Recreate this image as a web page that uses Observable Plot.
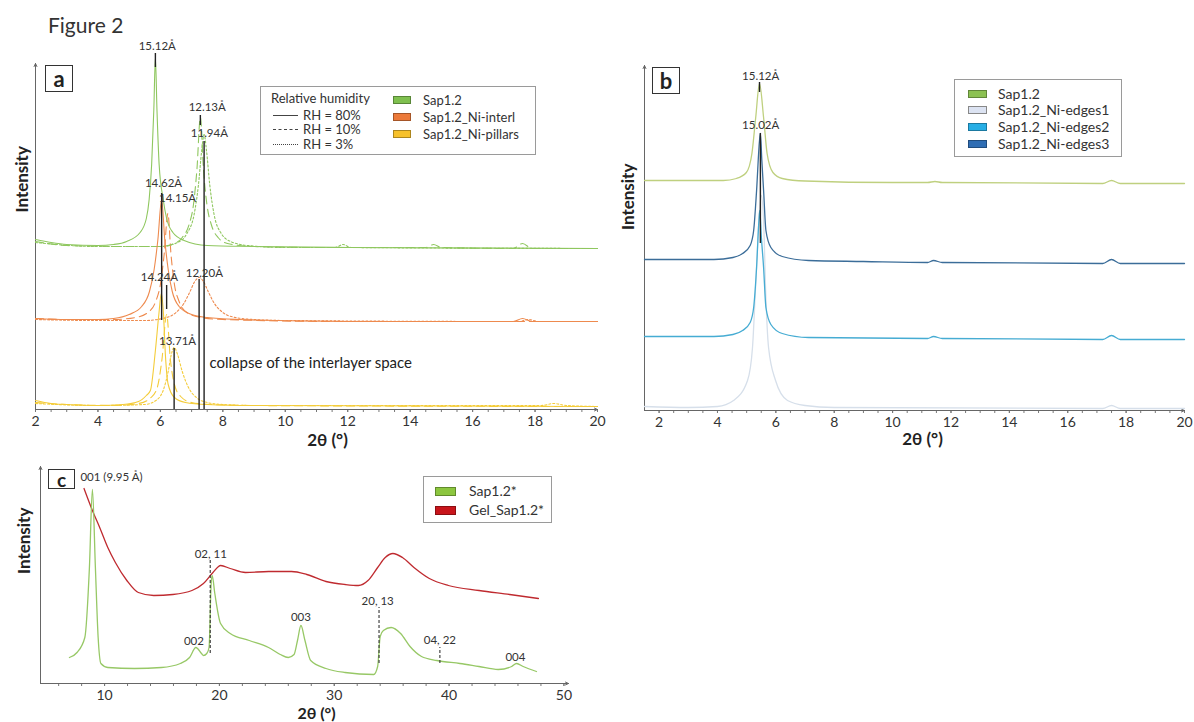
<!DOCTYPE html>
<html><head><meta charset="utf-8">
<script src="https://cdn.jsdelivr.net/npm/d3@7"></script>
<script src="https://cdn.jsdelivr.net/npm/@observablehq/plot@0.6"></script>
<style>
body{margin:0;background:#fff;font-family:Lato,"Open Sans",sans-serif;color:#333}
#fig{position:relative;width:1194px;height:722px;overflow:hidden;background:#fff}
.pos{position:absolute}
.tag{position:absolute;border:1px solid #333;font-weight:bold;display:flex;align-items:center;justify-content:center;background:#fff;line-height:1;box-sizing:border-box;color:#222}
.legend{position:absolute;border:1px solid #9a9a9a;background:#fff;color:#333;box-sizing:border-box}
.row{position:absolute;white-space:nowrap;height:16px;line-height:16px}
.sw{position:absolute;box-sizing:border-box;border:1px solid rgba(0,0,0,0.3)}
.ln{position:absolute;width:25px;height:0;border-top:1.3px solid #444}
</style>
</head><body>
<div id="fig">
  <div class="pos" style="left:48px;top:12px;font-size:21px;color:#333">Figure 2</div>
</div>
<script>
// ---------- Panel a : 2θ (°) vs intensity (a.u.) ----------
const aSamples = ["Sap1.2", "Sap1.2_Ni-interl", "Sap1.2_Ni-pillars"];
const aColors = ["#8fc75f", "#ee8a4e", "#f4cc3a"];
const aSwatches = ["#7fc04f", "#ec7a3a", "#f7c12b"];
const aRH = ["RH = 80%", "RH = 10%", "RH = 3%"];

const aSap_rh80 = [[2,170],[2.5,167],[3,165],[4,164],[4.5,165],[4.92,168],[5.35,177],[5.55,191],[5.64,210],[5.72,245],[5.79,300],[5.84,352],[5.89,300],[5.96,245],[6.09,210],[6.2,191],[6.4,177],[6.76,169],[7.5,164],[9,163],[12,162],[20,161]];
const aSap_rh10 = [[2,168],[3,164],[5,163],[6,163],[6.45,166],[6.7,172],[6.92,185],[7.06,205],[7.17,240],[7.28,292],[7.38,240],[7.49,205],[7.63,185],[7.85,172],[8.15,166],[9,163],[11,162],[14.5,162],[14.75,165],[15,162],[17.3,161],[17.6,166],[17.9,161],[20,161]];
const aSap_rh3 = [[2,167],[4,163],[6,163],[6.55,167],[6.85,176],[7.08,195],[7.22,225],[7.32,258],[7.4,275],[7.48,258],[7.58,225],[7.72,195],[7.95,176],[8.25,168],[8.8,164],[10,162],[11.6,162],[11.85,165],[12.1,162],[20,161]];
const aInterl_rh80 = [[2,91],[3,90],[4,90],[4.5,91],[5,95],[5.4,103],[5.65,118],[5.8,140],[5.92,170],[6.04,210],[6.14,170],[6.25,140],[6.38,118],[6.6,103],[7,95],[7.5,92],[8.5,90],[12,88],[17.3,88],[17.6,91],[17.9,88],[20,88]];
const aInterl_rh10 = [[2,91],[3,90],[4.5,90],[5.2,92],[5.6,97],[5.85,108],[6,125],[6.12,155],[6.24,196],[6.34,155],[6.45,125],[6.6,108],[6.85,97],[7.3,92],[8,90],[12,88],[20,88]];
const aInterl_rh3 = [[2,90],[4,89],[5.5,89],[6.2,92],[6.5,97],[6.75,106],[6.95,118],[7.1,128],[7.24,132],[7.38,128],[7.53,118],[7.73,106],[8,97],[8.4,92],[9,90],[10,89],[17.5,88],[17.8,90],[18.1,88],[20,88]];
const aPill_rh80 = [[2,9],[2.5,6],[3,5],[4,4],[4.8,5],[5.3,8],[5.55,14],[5.68,19],[5.84,59],[5.95,95],[6.03,116],[6.1,95],[6.16,55],[6.25,25],[6.45,12],[6.8,7],[7.5,5],[9,4],[20,3]];
const aPill_rh10 = [[2,7],[3,5],[4.5,4],[5.3,6],[5.7,12],[5.9,22],[6.05,50],[6.2,95],[6.32,50],[6.45,25],[6.65,13],[7,7],[7.6,5],[9,4],[20,3]];
const aPill_rh3 = [[2,6],[4,4],[5.5,5],[5.9,10],[6.1,20],[6.25,38],[6.35,55],[6.44,62],[6.55,55],[6.7,38],[6.9,22],[7.15,12],[7.5,7],[8,5],[9,4],[18.2,4],[18.6,6],[19,4],[20,3]];

const aPeakLabels = [
  {t:"15.12Å", x:5.9, y:363}, {t:"12.13Å", x:7.5, y:302}, {t:"11.94Å", x:7.57, y:276},
  {t:"14.62Å", x:6.1, y:226}, {t:"14.15Å", x:6.55, y:211}, {t:"14.24Å", x:5.97, y:132},
  {t:"12.20Å", x:7.41, y:136}, {t:"13.71Å", x:6.55, y:68}
];
const aRules = [
  {x:5.84, y1:342, y2:356}, {x:7.28, y1:284, y2:294}, {x:7.40, y1:0, y2:268},
  {x:7.24, y1:0, y2:130}, {x:6.44, y1:0, y2:61}, {x:6.04, y1:89, y2:216}, {x:6.2, y1:100, y2:124}
];
const aNote = [{t:"collapse of the interlayer space", x:7.57, y:46}];
const aXDomain = [2, 20], aYDomain = [0, 346];
const aMajor = [2,4,6,8,10,12,14,16,18,20];

// ---------- Panel b ----------
const bSamples = ["Sap1.2", "Sap1.2_Ni-edges1", "Sap1.2_Ni-edges2", "Sap1.2_Ni-edges3"];
const bColors = ["#bfd07f", "#d6dfea", "#46acd3", "#3b6d99"];
const bSwatches = ["#8cc152", "#dce3f2", "#27aee5", "#2f6db3"];
const bSap = [[1.5,230],[3,230],[4.2,230],[4.65,232],[4.99,238],[5.18,257],[5.31,293],[5.44,327],[5.58,293],[5.7,257],[5.9,238],[6.22,232],[7,229.5],[10,228],[11.2,228],[11.45,229],[11.7,228],[17.2,227],[17.5,230],[17.8,227],[20,227]];
const bEdges1 = [[1.5,4],[3,3],[4,4],[4.55,10],[5.03,30],[5.2,63],[5.3,120],[5.42,190],[5.5,215],[5.58,190],[5.65,120],[5.75,63],[5.99,30],[6.4,10],[7,5],[8,3],[17.2,2],[17.5,5],[17.8,2],[20,2]];
const bEdges2 = [[1.5,74],[3.88,74],[4.53,76],[4.86,80],[5.12,88],[5.24,103],[5.34,143],[5.42,190],[5.45,200],[5.5,175],[5.58,143],[5.66,103],[5.83,86],[6.22,77],[7.12,73],[11.2,72],[11.4,74],[11.7,72],[17.2,71],[17.5,75],[17.8,71],[20,71]];
const bEdges3 = [[1.5,151],[3,151],[3.88,151],[4.53,153],[4.86,157],[5.12,165],[5.24,180],[5.34,220],[5.44,270],[5.47,277],[5.52,250],[5.58,220],[5.66,180],[5.83,163],[6.22,154],[7.12,150],[9,149],[11.2,148],[11.4,150],[11.7,148],[17.2,147],[17.5,151],[17.8,147],[20,147]];
const bPeakLabels = [{t:"15.12Å", x:5.48, y:334}, {t:"15.02Å", x:5.48, y:285}];
const bRules = [{x:5.44, y1:318, y2:328}, {x:5.47, y1:167, y2:277}];
const bXDomain = [1.5, 20], bYDomain = [0, 345];
const bMajor = [2,4,6,8,10,12,14,16,18,20];

// ---------- Panel c ----------
const cSamples = ["Sap1.2*", "Gel_Sap1.2*"];
const cColors = ["#97c866", "#bf2a2f"];
const cSwatches = ["#8cc63f", "#c8151b"];
const cSap = [[6.94,26],[7.6,31],[8.28,46],[8.68,116],[8.94,194],[9.2,116],[9.44,46],[9.68,20],[10.28,16],[12.6,15],[14.95,16],[16.6,20],[17.4,26],[17.95,36],[18.44,30],[18.62,28],[18.9,30],[19.1,36],[19.28,100],[19.37,108],[19.6,90],[20.1,60],[20.94,50],[22.6,43],[24.28,36],[25.3,29],[26.0,26],[26.5,29],[26.8,43],[27.1,58],[27.45,43],[27.95,23],[29.28,15],[30.94,11],[33.44,9],[33.78,17],[34,47],[34.28,53],[34.95,56],[35.78,50],[36.6,37],[37.6,27],[38.94,23],[40.94,20],[42.6,17],[44.28,14],[45.45,17],[45.88,20],[46.45,17],[47.61,12]];
const cGel = [[8.21,195],[8.94,173],[9.61,155],[10.28,136],[10.94,121],[11.94,103],[12.94,91],[14.28,88],[15.94,89],[17.61,93],[18.61,100],[19.44,111],[20.11,118],[20.94,115],[22.27,111],[24.28,112],[26.28,112],[27.61,109],[29.28,102],[30.94,99],[32.11,98],[32.94,103],[33.78,116],[34.44,126],[35.11,130],[35.94,126],[36.94,116],[38.28,105],[39.94,98],[42.61,93],[45.28,89],[47.78,85]];
const cPeakLabels = [
  {t:"001 (9.95 Å)", x:10.6, y:206}, {t:"02, 11", x:19.25, y:129}, {t:"002", x:17.78, y:42},
  {t:"003", x:27.1, y:66}, {t:"20, 13", x:33.78, y:82}, {t:"04, 22", x:39.2, y:43}, {t:"004", x:45.78, y:26}
];
const cRules = [{x:19.2, y1:30, y2:123}, {x:33.9, y1:20, y2:76}, {x:39.2, y1:20, y2:36}];
const cXDomain = [4.42, 50.4], cYDomain = [0, 217];
const cMajor = [10,20,30,40,50];

// ---------- helpers ----------
const toRows = (pts, sample, key) => pts.map(([x, y]) => ({x, y, sample, key}));
const style = {fontFamily: "Lato, 'Open Sans', sans-serif", fontSize: "14px", color: "#333", background: "none", overflow: "visible"};

function frameMarks(xd, yd, major, minor, xl, yl, xfs) {
  return [
    Plot.axisX({ticks: minor, tickSize: 3, tickFormat: () => "", label: null, stroke: "#777"}),
    Plot.axisX({ticks: major, tickSize: 3, tickPadding: 4, label: null, fontSize: 14, stroke: "#777"}),
    Plot.arrow([0], {x1: () => xd[0], x2: () => xd[1], y1: () => yd[0], y2: () => yd[0], stroke: "#666", strokeWidth: 1, headLength: 5, headAngle: 50}),
    Plot.arrow([0], {x1: () => xd[0], x2: () => xd[0], y1: () => yd[0], y2: () => yd[1], stroke: "#666", strokeWidth: 1, headLength: 5, headAngle: 50}),
    Plot.text(["2θ (°)"], {frameAnchor: "bottom", text: d => d, dx: xl[0], dy: xl[1], fontSize: xfs, fontWeight: "bold", fill: "#222"}),
    Plot.text(["Intensity"], {frameAnchor: "left", text: d => d, rotate: -90, dx: yl[0], dy: yl[1], fontSize: 17, fontWeight: "bold", fill: "#222"})
  ];
}
function place(svg, left, top) {
  const w = document.createElement("div");
  w.className = "pos"; w.style.left = left + "px"; w.style.top = top + "px";
  w.appendChild(svg);
  document.getElementById("fig").appendChild(w);
}

// ---------- Panel a plot ----------
const a80 = [...toRows(aPill_rh80, aSamples[2], "p80"), ...toRows(aInterl_rh80, aSamples[1], "i80"), ...toRows(aSap_rh80, aSamples[0], "s80")];
const a10 = [...toRows(aPill_rh10, aSamples[2], "p10"), ...toRows(aInterl_rh10, aSamples[1], "i10"), ...toRows(aSap_rh10, aSamples[0], "s10")];
const a3  = [...toRows(aPill_rh3, aSamples[2], "p3"), ...toRows(aInterl_rh3, aSamples[1], "i3"), ...toRows(aSap_rh3, aSamples[0], "s3")];
const lineOpts = {x: "x", y: "y", z: "key", stroke: "sample", strokeWidth: 1.1, curve: "monotone-x"};

const plotA = Plot.plot({
  width: 615, height: 430, marginLeft: 35, marginRight: 18, marginTop: 33, marginBottom: 51,
  x: {domain: aXDomain, axis: null}, y: {domain: aYDomain, axis: null},
  color: {domain: aSamples, range: aColors},
  style,
  marks: [
    ...frameMarks(aXDomain, aYDomain, aMajor, d3.range(2, 20.01, 0.5), [11, 36], [-13, -24], 17),
    Plot.line(a3, {...lineOpts, strokeDasharray: "2,2"}),
    Plot.line(a10, {...lineOpts, strokeDasharray: "8,5"}),
    Plot.line(a80, lineOpts),
    Plot.ruleX(aRules, {x: "x", y1: "y1", y2: "y2", stroke: "#222", strokeWidth: 1.4}),
    Plot.text(aPeakLabels, {x: "x", y: "y", text: "t", fontSize: 11.5, fill: "#333"}),
    Plot.text(aNote, {x: "x", y: "y", text: "t", textAnchor: "start", fontSize: 15, fill: "#222"})
  ]
});
place(plotA, 0, 30);

// ---------- Panel b plot ----------
const bRows = [
  ...toRows(bEdges1, bSamples[1], "e1"), ...toRows(bEdges2, bSamples[2], "e2"),
  ...toRows(bEdges3, bSamples[3], "e3"), ...toRows(bSap, bSamples[0], "s")
];
const plotB = Plot.plot({
  width: 594, height: 430, marginLeft: 44, marginRight: 10, marginTop: 35, marginBottom: 50,
  x: {domain: bXDomain, axis: null}, y: {domain: bYDomain, axis: null},
  color: {domain: bSamples, range: bColors},
  style,
  marks: [
    ...frameMarks(bXDomain, bYDomain, bMajor, d3.range(2, 20.01, 0.5), [8, 34], [-16, -8], 17),
    Plot.line(bRows, {...lineOpts, strokeWidth: 1.3}),
    Plot.ruleX(bRules, {x: "x", y1: "y1", y2: "y2", stroke: "#222", strokeWidth: 1.4}),
    Plot.text(bPeakLabels, {x: "x", y: "y", text: "t", fontSize: 11.5, fill: "#333"})
  ]
});
place(plotB, 600, 30);

// ---------- Panel c plot ----------
const cRows = [...toRows(cGel, cSamples[1], "g"), ...toRows(cSap, cSamples[0], "s")];
const plotC = Plot.plot({
  width: 600, height: 272, marginLeft: 40, marginRight: 32, marginTop: 16, marginBottom: 39,
  x: {domain: cXDomain, axis: null}, y: {domain: cYDomain, axis: null},
  color: {domain: cSamples, range: cColors},
  style,
  marks: [
    ...frameMarks(cXDomain, cYDomain, cMajor, d3.range(6, 50.1, 2), [12, 35], [-16, -1], 16),
    Plot.line(cRows, {...lineOpts, strokeWidth: 1.3}),
    Plot.ruleX(cRules, {x: "x", y1: "y1", y2: "y2", stroke: "#333", strokeWidth: 1.1, strokeDasharray: "3,2"}),
    Plot.text(cPeakLabels, {x: "x", y: "y", text: "t", fontSize: 11.5, fill: "#333"})
  ]
});
place(plotC, 0, 450);

// ---------- panel tags & legends (HTML) ----------
const fig = document.getElementById("fig");
function tag(t, l, tp, w, h, fs) {
  const d = document.createElement("div");
  d.className = "tag"; Object.assign(d.style, {left: l+"px", top: tp+"px", width: w+"px", height: h+"px", fontSize: fs+"px"});
  d.textContent = t; fig.appendChild(d);
}
tag("a", 45, 65, 28, 27, 22);
tag("b", 652, 67, 28, 27, 22);
tag("c", 48, 469, 27, 20, 19);

function legendBox(l, t, w, h) {
  const d = document.createElement("div");
  d.className = "legend"; Object.assign(d.style, {left: l+"px", top: t+"px", width: w+"px", height: h+"px"});
  fig.appendChild(d); return d;
}
function addRow(box, x, cy, text, fs) {
  const r = document.createElement("div");
  r.className = "row"; Object.assign(r.style, {left: x+"px", top: (cy-8)+"px", fontSize: fs+"px"});
  r.textContent = text; box.appendChild(r);
}
function addSwatch(box, x, cy, w, h, color, border) {
  const s = document.createElement("div");
  s.className = "sw"; Object.assign(s.style, {left: x+"px", top: (cy-h/2)+"px", width: w+"px", height: h+"px", background: color});
  if (border) s.style.borderColor = border;
  box.appendChild(s);
}
// legend a
const la = legendBox(260, 86, 276, 69);
addRow(la, 10, 11, "Relative humidity", 13);
const dashStyles = ["solid", "dashed", "dotted"];
[28, 42, 57].forEach((cy, i) => {
  const ln = document.createElement("div");
  ln.className = "ln"; Object.assign(ln.style, {left: "12px", top: cy + "px", borderTopStyle: dashStyles[i]});
  la.appendChild(ln);
  addRow(la, 42, cy, aRH[i], 13);
});
[13, 30, 47].forEach((cy, i) => { addSwatch(la, 132, cy, 18, 8, aSwatches[i]); addRow(la, 162, cy, aSamples[i], 13); });
// legend b
const lb = legendBox(954, 79, 168, 78);
[14, 30, 47, 64].forEach((cy, i) => { addSwatch(lb, 13, cy, 19, 8, bSwatches[i], i === 1 ? "#888" : null); addRow(lb, 43, cy, bSamples[i], 14); });
// legend c
const lc = legendBox(423, 476, 129, 47);
[14, 33].forEach((cy, i) => { addSwatch(lc, 11, cy, 21, 9, cSwatches[i]); addRow(lc, 45, cy, cSamples[i], 14); });
</script>
</body></html>
